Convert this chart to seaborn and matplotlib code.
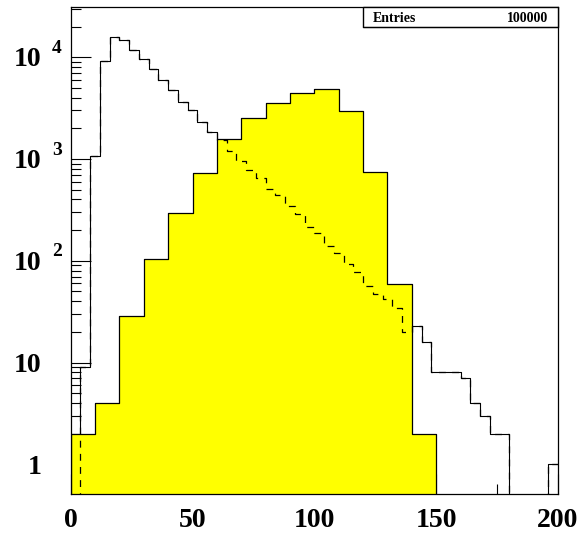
import numpy as np
import pandas as pd
import matplotlib
matplotlib.use("Agg")
import matplotlib.pyplot as plt
import seaborn as sns
from matplotlib import transforms
from matplotlib.patches import Rectangle
from matplotlib.lines import Line2D
from matplotlib.ticker import FixedLocator, LogLocator, NullFormatter

# ---------------- data ----------------
# histogram 1 (open, 4-unit bins from 0 to 200)
a_width = 4
a_counts = [0, 9, 1080, 9260, 15700, 14900, 11880, 9620, 7730, 5930,
            4800, 3660, 3050, 2330, 1835, 1549, 1188, 956, 785, 650,
            510, 446, 347, 287, 214, 187, 141, 119, 93, 78,
            57, 47, 42, 34, 20, 23, 16, 8, 8, 8,
            7, 4, 3, 2, 2, 0, 0, 0, 0, 1]
# histogram 2 (yellow filled, 10-unit bins from 0 to 200)
y_width = 10
y_counts = [2, 4, 29, 105, 294, 728, 1585, 2530, 3555, 4457,
            4880, 2985, 738, 59, 2, 0, 0, 0, 0, 0]
x_range = (0, 200)

x_tick_values = [0, 50, 100, 150, 200]
x_tick_labels = ["0", "50", "100", "150", "200"]
x_minor_values = [25, 75, 125, 175]
y_tick_values = [1, 10, 100, 1000, 10000]
y_tick_bases = ["1", "10", "10", "10", "10"]
y_tick_exps = ["", "", "2", "3", "4"]
stat_label = "Entries"
stat_value = "100000"

# ---------------- figure ----------------
W, H = 587, 538
fig = plt.figure(figsize=(W / 100, H / 100), dpi=100)
L, R, T, B = 70.7, 558.0, 6.7, 494.0
ax = fig.add_axes([L / W, (H - B) / H, (R - L) / W, (B - T) / H])

FONT = ["Liberation Serif", "DejaVu Serif"]

df_a = pd.DataFrame({"x": x_range[0] + a_width * (np.arange(len(a_counts)) + 0.5),
                     "w": a_counts})
df_y = pd.DataFrame({"x": x_range[0] + y_width * (np.arange(len(y_counts)) + 0.5),
                     "w": y_counts})

# solid outline of histogram 1
sns.histplot(data=df_a, x="x", weights="w", binwidth=a_width, binrange=x_range,
             element="step", fill=False, color="black", linewidth=0.8, ax=ax, zorder=2)
# yellow filled histogram 2
sns.histplot(data=df_y, x="x", weights="w", binwidth=y_width, binrange=x_range,
             element="step", fill=True, color="#ffff00", alpha=1, edgecolor="black",
             linewidth=0.9, ax=ax, zorder=3)
# dashed redraw of histogram 1 on top
sns.histplot(data=df_a, x="x", weights="w", binwidth=a_width, binrange=x_range,
             element="step", fill=False, color="black", linewidth=0.9,
             linestyle=(0, (5.5, 5)), ax=ax, zorder=4)

ax.set_yscale("log")
ax.set_xlim(0, 200)
ax.set_ylim(0.512, 31300)
ax.set_xlabel("")
ax.set_ylabel("")
ax.set_facecolor("white")

ax.xaxis.set_major_locator(FixedLocator(x_tick_values))
ax.xaxis.set_minor_locator(FixedLocator(x_minor_values))
ax.yaxis.set_major_locator(FixedLocator(y_tick_values))
ax.yaxis.set_minor_locator(LogLocator(base=10, subs=np.arange(2, 10), numticks=30))
for axis in (ax.xaxis, ax.yaxis):
    axis.set_major_formatter(NullFormatter())
    axis.set_minor_formatter(NullFormatter())

ax.tick_params(axis="both", which="major", direction="in", length=14.4, width=0.8,
               color="black", top=False, right=False)
ax.tick_params(axis="both", which="minor", direction="in", length=7.2, width=0.8,
               color="black", top=False, right=False)
ax.set_axisbelow(True)
for s in ax.spines.values():
    s.set_linewidth(0.9)
    s.set_color("black")
    s.set_zorder(10)

# ---------------- tick labels (ROOT style) ----------------
tx = transforms.blended_transform_factory(ax.transData, ax.transAxes)
for v, lab in zip(x_tick_values, x_tick_labels):
    ax.text(v, 0, lab, ha="center", va="baseline", fontsize=20, fontweight="bold",
            family=FONT,
            transform=transforms.offset_copy(tx, fig=fig, x=0, y=-33.3, units="dots"))

ty = transforms.blended_transform_factory(ax.transAxes, ax.transData)
for v, base, ex in zip(y_tick_values, y_tick_bases, y_tick_exps):
    ax.text(0, v, base, ha="right", va="baseline", fontsize=20, fontweight="bold",
            family=FONT,
            transform=transforms.offset_copy(ty, fig=fig, x=-29, y=-9.2, units="dots"))
    if ex:
        ax.text(0, v, ex, ha="left", va="baseline", fontsize=14, fontweight="bold",
                family=FONT,
                transform=transforms.offset_copy(ty, fig=fig, x=-19, y=4.3, units="dots"))

# ---------------- stats box ----------------
px = fig.dpi_scale_trans
bx0, bx1, by0, by1 = 363.3, 558.3, 7.3, 26.7
fig.add_artist(Rectangle((bx0 / 100, (H - by1) / 100), (bx1 - bx0) / 100, (by1 - by0) / 100,
                         transform=px, facecolor="white", edgecolor="black",
                         linewidth=1.0, zorder=20))
fig.add_artist(Line2D([bx0 / 100, bx1 / 100], [(H - by1 - 0.8) / 100] * 2,
                      transform=px, color="black", linewidth=0.8, zorder=21))
fig.text(372.7 / W, (H - 21.7) / H, stat_label, ha="left", va="baseline",
         fontsize=10, fontweight="bold", family=FONT, zorder=22)
fig.text(548.3 / W, (H - 21.7) / H, stat_value, ha="right", va="baseline",
         fontsize=10, fontweight="bold", family=FONT, zorder=22)

fig.savefig("out.png", dpi=100, facecolor="white")
